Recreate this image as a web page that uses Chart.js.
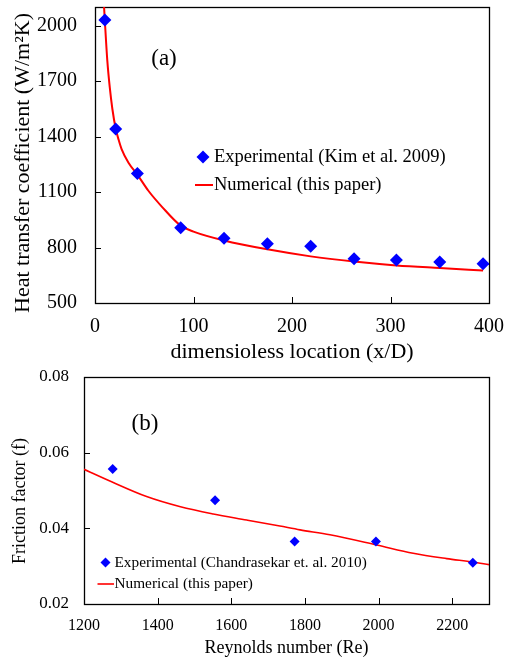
<!DOCTYPE html>
<html><head><meta charset="utf-8">
<script src="https://cdn.jsdelivr.net/npm/chart.js@4.4.0/dist/chart.umd.min.js"></script>
<style>
html,body{margin:0;padding:0;background:#fff;}
#wrapA{position:absolute;left:0;top:0;width:507px;height:370px;}
#wrapB{position:absolute;left:0;top:370px;width:507px;height:293px;}
canvas{display:block;}
</style></head><body>
<div id="wrapA"><canvas id="cA" width="507" height="370"></canvas></div>
<div id="wrapB"><canvas id="cB" width="507" height="293"></canvas></div>
<script>
// ---------- (a) heat transfer coefficient ----------
const locExp = [10, 21, 43, 87, 131, 175, 219, 263, 306, 350, 394];
const htcExp = [2030, 1440, 1200, 907, 850, 820, 807, 739, 733, 722, 712];
const locNum = [9.2, 10, 12.5, 15, 17.6, 21, 24, 27, 34, 43, 54, 68, 87, 100, 131, 175, 219, 263, 306, 350, 394];
const htcNum = [2100, 2025, 1810, 1665, 1550, 1443, 1382, 1332, 1258, 1194, 1108, 1020, 918, 886, 838, 790, 752, 724, 703, 689, 676];
const locTicks = [0, 100, 200, 300, 400];
const htcTicks = [500, 800, 1100, 1400, 1700, 2000];

// ---------- (b) friction factor ----------
const reExp = [1278, 1556, 1772, 1993, 2256];
const fExp = [0.0557, 0.0474, 0.0365, 0.0365, 0.0309];
const reNum = [1200, 1275, 1370, 1462, 1551, 1642, 1732, 1787, 1868, 1995, 2094, 2185, 2256, 2300];
const fNum = [0.0556, 0.0523, 0.0484, 0.0457, 0.0438, 0.0422, 0.0406, 0.0396, 0.0383, 0.0356, 0.0334, 0.0320, 0.0311, 0.0304];
const reTicks = [1200, 1400, 1600, 1800, 2000, 2200];
const fTicks = [0.02, 0.04, 0.06, 0.08];

const FONT = "'Liberation Serif', 'Times New Roman', serif";
const pts = (xs, ys) => xs.map((x, i) => ({x: x, y: ys[i]}));

const framePlugin = {
  id: 'frame',
  beforeDatasetsDraw(chart, args, opts) {
    const {ctx, chartArea: a} = chart;
    ctx.save();
    ctx.strokeStyle = '#000';
    ctx.lineWidth = 1;
    const L = opts.tickLen || 6;
    chart.scales.x.ticks.forEach(t => {
      const px = Math.round(chart.scales.x.getPixelForValue(t.value)) + 0.5;
      ctx.beginPath(); ctx.moveTo(px, a.bottom); ctx.lineTo(px, a.bottom - L); ctx.stroke();
    });
    chart.scales.y.ticks.forEach(t => {
      const py = Math.round(chart.scales.y.getPixelForValue(t.value)) + 0.5;
      ctx.beginPath(); ctx.moveTo(a.left, py); ctx.lineTo(a.left + L, py); ctx.stroke();
    });
    ctx.lineWidth = 1.3;
    ctx.strokeRect(Math.round(a.left) + 0.5, Math.round(a.top) + 0.5, Math.round(a.right - a.left), Math.round(a.bottom - a.top));
    ctx.restore();
  },
  afterDraw(chart, args, opts) {
    const ctx = chart.ctx;
    const a = chart.chartArea;
    const ds = chart.data.datasets;
    ctx.save();
    ctx.fillStyle = '#000';
    ctx.textBaseline = 'middle';
    // y-axis title (rotated)
    const yt = opts.yTitle;
    ctx.save();
    ctx.font = yt.font + ' ' + FONT;
    ctx.textAlign = 'center';
    ctx.translate(yt.x, (a.top + a.bottom) / 2 + yt.dy);
    ctx.rotate(-Math.PI / 2);
    ctx.fillText(yt.text, 0, 0);
    ctx.restore();
    // panel label
    ctx.font = opts.labelFont + ' ' + FONT;
    ctx.textAlign = 'center';
    ctx.fillText(opts.label, opts.labelX, opts.labelY);
    // legend
    ctx.textAlign = 'left';
    ctx.font = opts.legendFont + ' ' + FONT;
    const lg = opts.legend;
    ctx.fillStyle = ds[0].backgroundColor;
    ctx.beginPath();
    ctx.moveTo(lg.mx, lg.y1 - lg.r); ctx.lineTo(lg.mx + lg.r, lg.y1);
    ctx.lineTo(lg.mx, lg.y1 + lg.r); ctx.lineTo(lg.mx - lg.r, lg.y1); ctx.closePath();
    ctx.fill();
    ctx.fillStyle = '#000';
    ctx.fillText(ds[0].label, lg.tx, lg.y1);
    ctx.strokeStyle = ds[1].borderColor;
    ctx.lineWidth = ds[1].borderWidth;
    ctx.beginPath(); ctx.moveTo(lg.lx0, lg.y2); ctx.lineTo(lg.lx1, lg.y2); ctx.stroke();
    ctx.fillText(ds[1].label, lg.tx, lg.y2);
    ctx.restore();
  }
};

function fixY(w) { return s => { s.width = w; s.paddingTop = 0; s.paddingBottom = 0; s.paddingLeft = 0; s.paddingRight = 0; }; }
function fixX(h) { return s => { s.height = h; s.paddingTop = 0; s.paddingBottom = 0; s.paddingLeft = 0; s.paddingRight = 0; }; }
function setTicks(arr) { return s => { s.ticks = arr.map(v => ({value: v})); }; }

// ---------- Chart (a) ----------
new Chart(document.getElementById('cA'), {
  type: 'scatter',
  data: {
    datasets: [
      { label: 'Experimental (Kim et al. 2009)', data: pts(locExp, htcExp),
        pointStyle: 'rectRot', pointRadius: 6.5, backgroundColor: '#0000FF', borderColor: '#0000FF', borderWidth: 0, showLine: false },
      { label: 'Numerical (this paper)', data: pts(locNum, htcNum),
        showLine: true, pointRadius: 0, borderColor: '#FF0000', backgroundColor: '#FF0000', borderWidth: 2,
        cubicInterpolationMode: 'monotone', fill: false }
    ]
  },
  options: {
    responsive: false, animation: false, devicePixelRatio: 1,
    layout: { padding: { top: 7, right: 18, bottom: 0, left: 0 }, autoPadding: false },
    plugins: {
      legend: { display: false }, tooltip: { enabled: false },
      frame: {
        label: '(a)', labelFont: '23px', labelX: 164, labelY: 59,
        legendFont: '18.5px',
        legend: { mx: 203, r: 6.5, tx: 214, y1: 157, y2: 185, lx0: 195, lx1: 213 },
        yTitle: { text: 'Heat transfer coefficient (W/m\u00B2K)', font: '22px', x: 23, dy: 8 }
      }
    },
    scales: {
      x: {
        type: 'linear', min: 0, max: 400,
        afterBuildTicks: setTicks(locTicks), afterFit: fixX(67),
        grid: { display: false, drawTicks: false }, border: { display: false },
        ticks: { color: '#000', font: { family: FONT, size: 20 }, padding: 12, callback: v => String(v), maxRotation: 0 },
        title: { display: true, text: 'dimensioless location (x/D)', color: '#000', font: { family: FONT, size: 22 }, padding: { top: 0, bottom: 5 } }
      },
      y: {
        type: 'linear', min: 500, max: 2100,
        afterBuildTicks: setTicks(htcTicks), afterFit: fixY(95),
        grid: { display: false, drawTicks: false }, border: { display: false },
        ticks: { color: '#000', font: { family: FONT, size: 20 }, padding: 18, callback: v => String(v) },
        title: { display: false }
      }
    }
  },
  plugins: [framePlugin]
});

// ---------- Chart (b) ----------
new Chart(document.getElementById('cB'), {
  type: 'scatter',
  data: {
    datasets: [
      { label: 'Experimental (Chandrasekar et. al. 2010)', data: pts(reExp, fExp),
        pointStyle: 'rectRot', pointRadius: 5, backgroundColor: '#0000FF', borderColor: '#0000FF', borderWidth: 0, showLine: false },
      { label: 'Numerical (this paper)', data: pts(reNum, fNum),
        showLine: true, pointRadius: 0, borderColor: '#FF0000', backgroundColor: '#FF0000', borderWidth: 1.6,
        cubicInterpolationMode: 'monotone', fill: false }
    ]
  },
  options: {
    responsive: false, animation: false, devicePixelRatio: 1,
    layout: { padding: { top: 7, right: 18, bottom: 0, left: 0 }, autoPadding: false },
    plugins: {
      legend: { display: false }, tooltip: { enabled: false },
      frame: {
        label: '(b)', labelFont: '23px', labelX: 145, labelY: 54,
        legendFont: '15.3px',
        legend: { mx: 105.5, r: 5, tx: 114.5, y1: 192.5, y2: 214, lx0: 97.5, lx1: 114 },
        yTitle: { text: 'Friction factor (f)', font: '18px', x: 20, dy: 10.5 }
      }
    },
    scales: {
      x: {
        type: 'linear', min: 1200, max: 2300,
        afterBuildTicks: setTicks(reTicks), afterFit: fixX(59),
        grid: { display: false, drawTicks: false }, border: { display: false },
        ticks: { color: '#000', font: { family: FONT, size: 16 }, padding: 12, callback: v => String(v), maxRotation: 0 },
        title: { display: true, text: 'Reynolds number (Re)', color: '#000', font: { family: FONT, size: 18 }, padding: { top: 0, bottom: 4 } }
      },
      y: {
        type: 'linear', min: 0.02, max: 0.08,
        afterBuildTicks: setTicks(fTicks), afterFit: fixY(84),
        grid: { display: false, drawTicks: false }, border: { display: false },
        ticks: { color: '#000', font: { family: FONT, size: 17 }, padding: 15, callback: v => v.toFixed(2) },
        title: { display: false }
      }
    }
  },
  plugins: [framePlugin]
});
</script>
</body></html>
